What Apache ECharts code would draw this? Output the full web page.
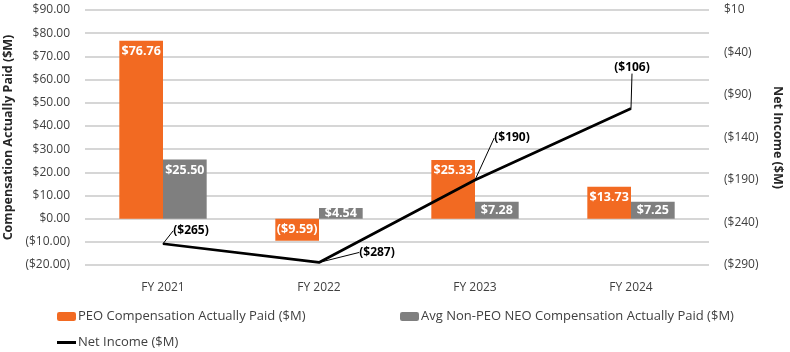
<!DOCTYPE html>
<html><head><meta charset="utf-8">
<script src="https://cdn.jsdelivr.net/npm/echarts@6/dist/echarts.min.js"></script>
<style>html,body{margin:0;padding:0;background:#fff}#c{width:790px;height:352px}</style>
</head><body><div id="c"></div>
<script>
const categories = ['FY 2021', 'FY 2022', 'FY 2023', 'FY 2024'];
const peoCap = [76.76, -9.59, 25.33, 13.73];
const neoCap = [25.50, 4.54, 7.28, 7.25];
const netIncome = [-265, -287, -190, -106];
const seriesNames = ['PEO Compensation Actually Paid ($M)', 'Avg Non-PEO NEO Compensation Actually Paid ($M)', 'Net Income ($M)'];

const FONT = 'Open Sans';
const ORANGE = '#F26A22';
const GRAY = '#7F7F7F';
const fmtMoney2 = v => v < 0 ? '($' + Math.abs(v).toFixed(2) + ')' : '$' + v.toFixed(2);
const fmtMoney0 = v => v < 0 ? '($' + Math.abs(v) + ')' : '$' + v;

function barData(arr) {
  return arr.map(v => (v < 10) ? { value: v, label: { position: 'inside' } } : v);
}
const barLabel = {
  show: true, position: 'insideTop', distance: 4, color: '#fff', fontWeight: 'bold',
  fontSize: 12.5, fontFamily: FONT, formatter: p => fmtMoney2(p.value)
};
const labelOffsets = [[28, -13], [58, -10], [37, -42], [1, -41]];

const legendText = { fontSize: 13, color: '#404040', fontFamily: FONT, padding: [0, 0, 0, -3] };

const chart = echarts.init(document.getElementById('c'), null, { renderer: 'canvas' });
chart.setOption({
  animation: false,
  textStyle: { fontFamily: FONT },
  grid: { left: 85, right: 81, top: 10, bottom: 87, containLabel: false, outerBoundsMode: 'none' },
  legend: [
    { data: [seriesNames[0]], left: 52, top: 305, itemWidth: 19, itemHeight: 9, itemGap: 0, textStyle: legendText },
    { data: [seriesNames[1]], left: 395, top: 305, itemWidth: 19, itemHeight: 9, itemGap: 0, textStyle: legendText },
    { data: [{ name: seriesNames[2], icon: 'rect' }], left: 52, top: 331, itemWidth: 19, itemHeight: 3, itemGap: 0, textStyle: legendText }
  ],
  xAxis: {
    type: 'category', data: categories,
    axisLine: { show: false }, axisTick: { show: false },
    axisLabel: { color: '#404040', fontSize: 12, margin: 17, fontFamily: FONT }
  },
  yAxis: [
    {
      type: 'value', min: -20, max: 90, interval: 10, position: 'left',
      name: 'Compensation Actually Paid ($M)', nameLocation: 'middle', nameGap: 66, nameRotate: 90,
      nameTextStyle: { fontWeight: 'bold', fontSize: 12.5, color: '#262626', fontFamily: FONT },
      axisLine: { show: false }, axisTick: { show: false },
      axisLabel: { color: '#404040', fontSize: 12, margin: 15, formatter: fmtMoney2, fontFamily: FONT },
      splitLine: { lineStyle: { color: '#c8c8c8', width: 1.5 } }
    },
    {
      type: 'value', min: -290, max: 10, interval: 50, position: 'right',
      name: 'Net Income ($M)', nameLocation: 'middle', nameGap: 62, nameRotate: -90,
      nameTextStyle: { fontWeight: 'bold', fontSize: 12.5, color: '#262626', fontFamily: FONT },
      axisLine: { show: false }, axisTick: { show: false },
      axisLabel: { color: '#404040', fontSize: 12, margin: 15, formatter: fmtMoney0, fontFamily: FONT },
      splitLine: { show: false }
    }
  ],
  series: [
    { name: seriesNames[0], type: 'bar', data: barData(peoCap), barGap: 0, barCategoryGap: '44%',
      itemStyle: { color: ORANGE }, label: barLabel, z: 2 },
    { name: seriesNames[1], type: 'bar', data: barData(neoCap), barGap: 0, barCategoryGap: '44%',
      itemStyle: { color: GRAY }, label: barLabel, z: 2 },
    { name: seriesNames[2], type: 'line', yAxisIndex: 1, data: netIncome, z: 5,
      symbol: 'circle', symbolSize: 1, showSymbol: true,
      lineStyle: { color: '#000', width: 2.7 }, itemStyle: { color: '#000' },
      label: { show: true, position: 'inside', color: '#000', fontWeight: 'bold', fontSize: 12,
        fontFamily: FONT, formatter: p => fmtMoney0(p.value) },
      labelLine: { show: true, lineStyle: { color: '#000', width: 1 } },
      labelLayout: p => ({ dx: labelOffsets[p.dataIndex][0], dy: labelOffsets[p.dataIndex][1] })
    }
  ]
});
</script></body></html>
